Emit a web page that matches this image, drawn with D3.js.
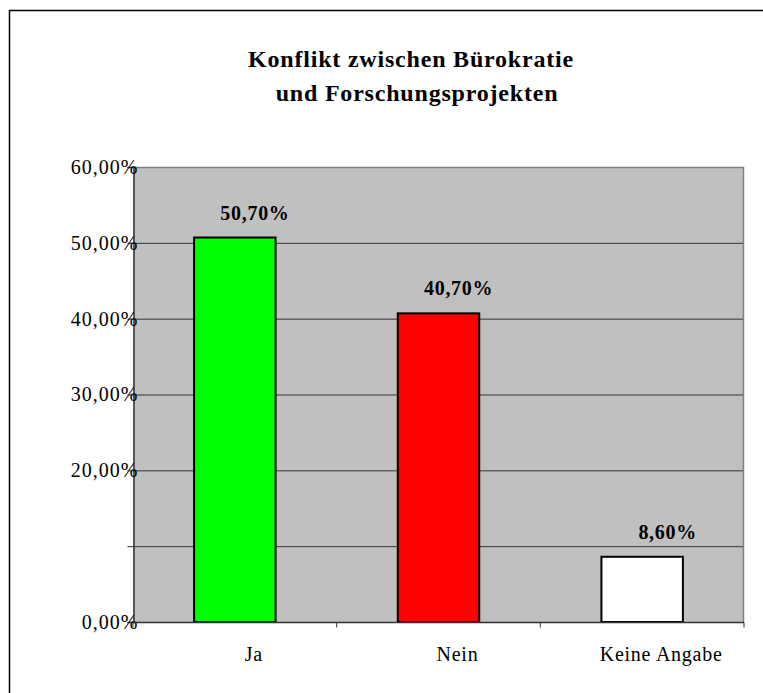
<!DOCTYPE html>
<html><head><meta charset="utf-8">
<script src="https://cdn.jsdelivr.net/npm/d3@7"></script>
<style>body{margin:0;background:#fff}svg{display:block}</style>
</head><body>
<script>
const categories = ["Ja", "Nein", "Keine Angabe"];
const values = [50.7, 40.7, 8.6];
const valueLabels = ["50,70%", "40,70%", "8,60%"];
const barColors = ["#00FF00", "#FF0000", "#FFFFFF"];
const yTicks = [0, 10, 20, 30, 40, 50, 60];
const yTickLabels = ["0,00%", "", "20,00%", "30,00%", "40,00%", "50,00%", "60,00%"];
const titleLines = ["Konflikt zwischen Bürokratie", "und Forschungsprojekten"];

const W = 763, H = 693;
const L = 133, R = 744, T = 167, B = 622;
const svg = d3.select("body").append("svg").attr("width", W).attr("height", H);
const font = "'Liberation Serif','Times New Roman',serif";

svg.append("rect").attr("x", 9.5).attr("y", 10.5).attr("width", W + 10).attr("height", H + 10)
  .attr("fill", "#fff").attr("stroke", "#000").attr("stroke-width", 1.5);

const x = d3.scaleBand().domain(categories).range([L, R]).paddingInner(0.6).paddingOuter(0.3);
const xb = d3.scaleBand().domain(categories).range([L, R]).padding(0);
const y = d3.scaleLinear().domain([0, 60]).range([B, T]);

svg.append("rect").attr("x", L).attr("y", T).attr("width", R - L).attr("height", B - T).attr("fill", "#C0C0C0");

svg.append("g").selectAll("line").data(yTicks.filter(d => d > 0 && d < 60)).join("line")
  .attr("x1", L).attr("x2", R).attr("y1", d => y(d) + 0.5).attr("y2", d => y(d) + 0.5)
  .attr("stroke", "#333").attr("stroke-width", 1);

svg.append("path").attr("d", `M${L},${T + 0.5}H${R - 0.5}V${B}`).attr("fill", "none").attr("stroke", "#808080").attr("stroke-width", 1.5);

svg.append("g").selectAll("rect").data(values).join("rect")
  .attr("x", (d, i) => x(categories[i])).attr("width", x.bandwidth())
  .attr("y", d => y(d)).attr("height", d => B - y(d))
  .attr("fill", (d, i) => barColors[i]).attr("stroke", "#000").attr("stroke-width", 2);

const yAxis = d3.axisLeft(y).tickValues(yTicks).tickSize(6).tickFormat((d, i) => yTickLabels[i]);
const gy = svg.append("g").attr("transform", `translate(${L + 0.5},0)`).call(yAxis);
gy.select(".domain").attr("stroke", "#333").attr("stroke-width", 1.5);
gy.selectAll(".tick line").attr("stroke", "#333");
gy.selectAll(".tick text").attr("x", 5).attr("font-family", font).attr("font-size", 20)
  .attr("letter-spacing", 1).attr("fill", "#000");

const gx = svg.append("g").attr("transform", `translate(0,${B + 0.5})`);
gx.append("line").attr("x1", L).attr("x2", R).attr("stroke", "#333").attr("stroke-width", 1.5);
const bounds = [L].concat(categories.map(c => xb(c) + xb.bandwidth()));
gx.selectAll(".tk").data(bounds).join("line").attr("class", "tk")
  .attr("x1", d => d).attr("x2", d => d).attr("y1", 0).attr("y2", 5).attr("stroke", "#333");
gx.selectAll("text").data(categories).join("text")
  .attr("x", d => xb(d) + xb.bandwidth() / 2 + 19).attr("y", 38)
  .attr("text-anchor", "middle").attr("font-family", font).attr("font-size", 20)
  .attr("letter-spacing", 0.75).text(d => d);

svg.append("g").selectAll("text").data(values).join("text")
  .attr("x", (d, i) => x(categories[i]) + x.bandwidth() + 14).attr("y", d => y(d) - 18)
  .attr("text-anchor", "end").attr("font-family", font).attr("font-weight", "bold").attr("font-size", 20)
  .attr("letter-spacing", 0.7).text((d, i) => valueLabels[i]);

svg.append("g").selectAll("text").data(titleLines).join("text")
  .attr("x", (d, i) => i === 0 ? 411 : 417).attr("y", (d, i) => 67 + i * 34)
  .attr("text-anchor", "middle").attr("font-family", font).attr("font-weight", "bold").attr("font-size", 24)
  .attr("letter-spacing", 0.8).text(d => d);
</script>
</body></html>
